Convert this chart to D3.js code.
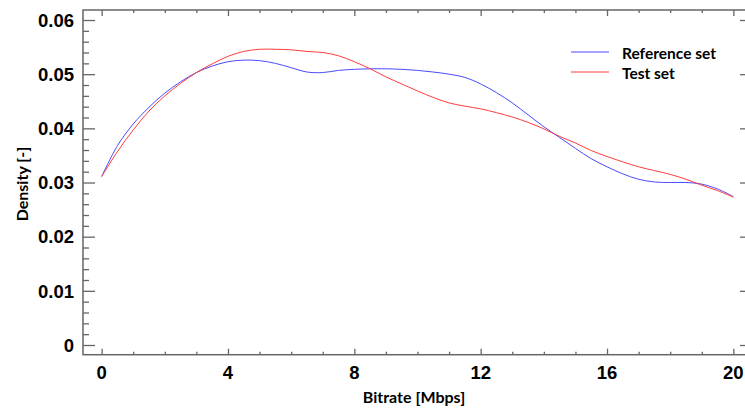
<!DOCTYPE html>
<html>
<head>
<meta charset="utf-8">
<script src="https://cdn.jsdelivr.net/npm/d3@7"></script>
<style>
  html, body { margin: 0; padding: 0; background: #fff; }
  svg { display: block; }
  .tick-label { font-family: "Liberation Sans", Arial, sans-serif; font-weight: bold; font-size: 18.5px; fill: #000; }
  .title { font-family: Lato, "Open Sans", sans-serif; font-weight: bold; font-size: 16px; fill: #000; }
  .legend-text { font-family: Lato, "Open Sans", sans-serif; font-weight: bold; font-size: 15.5px; fill: #000; }
</style>
</head>
<body>
<svg id="chart" width="745" height="410"></svg>
<script>
// Bitrate grid (Mbps), sampled every 0.5
const bitrate = d3.range(0, 20.01, 0.5);

// Estimated density for each set
const referenceSet = [
  0.0311, 0.0368, 0.0408, 0.0439, 0.0465, 0.0486, 0.0503, 0.0515, 0.0523, 0.0526,
  0.0525, 0.0520, 0.0512, 0.0504, 0.0503, 0.0507, 0.0509, 0.0510, 0.0510, 0.0509,
  0.0507, 0.0504, 0.0500, 0.0494, 0.0482, 0.0466, 0.0447, 0.0425, 0.0403, 0.0383,
  0.0363, 0.0344, 0.0329, 0.0316, 0.0306, 0.0301, 0.0300, 0.0300, 0.0297, 0.0288,
  0.0274
];
const testSet = [
  0.0311, 0.0357, 0.0397, 0.0432, 0.0460, 0.0483, 0.0503, 0.0519, 0.0533, 0.0542,
  0.0546, 0.0546, 0.0545, 0.0542, 0.0540, 0.0534, 0.0523, 0.0510, 0.0495, 0.0482,
  0.0469, 0.0457, 0.0447, 0.0441, 0.0436, 0.0429, 0.0421, 0.0411, 0.0399, 0.0385,
  0.0373, 0.0359, 0.0348, 0.0338, 0.0329, 0.0322, 0.0315, 0.0306, 0.0295, 0.0285,
  0.0273
];

const seriesNames = ["Reference set", "Test set"];
const seriesColors = ["#4a4aff", "#ff3c3c"];

// Axis ticks
const xMajorTicks = [0, 4, 8, 12, 16, 20];
const xMinorTicks = d3.range(0, 21, 1).filter(v => v % 4 !== 0);
const yMajorTicks = [0, 0.01, 0.02, 0.03, 0.04, 0.05, 0.06];
const yMinorTicks = d3.range(0, 0.0601, 0.002).filter(v => Math.abs(Math.round(v * 100) - v * 100) > 1e-6);
const xTickLabels = ["0", "4", "8", "12", "16", "20"];
const yTickLabels = ["0", "0.01", "0.02", "0.03", "0.04", "0.05", "0.06"];

const svg = d3.select("#chart");
const frame = { left: 83, right: 752, top: 10, bottom: 354.7 };

const x = d3.scaleLinear().domain([-0.59, 20.59]).range([frame.left, frame.right]);
const y = d3.scaleLinear().domain([-0.00179, 0.06185]).range([frame.bottom, frame.top]);

const axisColor = "#666";

function styleAxis(g) {
  g.select(".domain").remove();
  g.selectAll(".tick line").attr("stroke", axisColor).attr("stroke-width", 1.3);
  g.selectAll(".tick text").remove();
}

// Left axis: long inward majors, short minors
svg.append("g").attr("transform", `translate(${frame.left},0)`)
  .call(d3.axisRight(y).tickValues(yMajorTicks).tickSize(12)).call(styleAxis);
svg.append("g").attr("transform", `translate(${frame.left},0)`)
  .call(d3.axisRight(y).tickValues(yMinorTicks).tickSize(6)).call(styleAxis);
// Right axis mirror
svg.append("g").attr("transform", `translate(${frame.right},0)`)
  .call(d3.axisLeft(y).tickValues(yMajorTicks).tickSize(12)).call(styleAxis);
svg.append("g").attr("transform", `translate(${frame.right},0)`)
  .call(d3.axisLeft(y).tickValues(yMinorTicks).tickSize(6)).call(styleAxis);
// Bottom axis
svg.append("g").attr("transform", `translate(0,${frame.bottom})`)
  .call(d3.axisTop(x).tickValues(xMajorTicks).tickSize(6)).call(styleAxis);
svg.append("g").attr("transform", `translate(0,${frame.bottom})`)
  .call(d3.axisTop(x).tickValues(xMinorTicks).tickSize(3)).call(styleAxis);
// Top axis
svg.append("g").attr("transform", `translate(0,${frame.top})`)
  .call(d3.axisBottom(x).tickValues(xMajorTicks).tickSize(6)).call(styleAxis);
svg.append("g").attr("transform", `translate(0,${frame.top})`)
  .call(d3.axisBottom(x).tickValues(xMinorTicks).tickSize(3)).call(styleAxis);

// Frame lines
svg.append("rect")
  .attr("x", frame.left).attr("y", frame.top)
  .attr("width", frame.right - frame.left).attr("height", frame.bottom - frame.top)
  .attr("fill", "none").attr("stroke", axisColor).attr("stroke-width", 1.5);

// Tick labels
svg.append("g").selectAll("text").data(yMajorTicks).join("text")
  .attr("class", "tick-label")
  .attr("x", 74).attr("y", d => y(d)).attr("dy", "0.36em")
  .attr("text-anchor", "end")
  .text((d, i) => yTickLabels[i]);
svg.append("g").selectAll("text").data(xMajorTicks).join("text")
  .attr("class", "tick-label")
  .attr("x", d => x(d)).attr("y", 379)
  .attr("text-anchor", "middle")
  .text((d, i) => xTickLabels[i]);

// Axis titles
svg.append("text").attr("class", "title")
  .attr("x", 414).attr("y", 403).attr("text-anchor", "middle")
  .text("Bitrate [Mbps]");
svg.append("text").attr("class", "title")
  .attr("transform", "translate(28,184) rotate(-90)")
  .attr("text-anchor", "middle")
  .text("Density [-]");

// Density curves
const line = d3.line()
  .x((d, i) => x(bitrate[i]))
  .y(d => y(d))
  .curve(d3.curveCatmullRom.alpha(0.5));

[referenceSet, testSet].forEach((vals, k) => {
  svg.append("path")
    .datum(vals)
    .attr("d", line)
    .attr("fill", "none")
    .attr("stroke", seriesColors[k])
    .attr("stroke-width", 1);
});

// Legend
const legend = svg.append("g");
seriesNames.forEach((name, k) => {
  const ly = 52 + k * 20;
  legend.append("line")
    .attr("x1", 571).attr("x2", 609).attr("y1", ly).attr("y2", ly)
    .attr("stroke", seriesColors[k]).attr("stroke-width", 1);
  legend.append("text").attr("class", "legend-text")
    .attr("x", 622).attr("y", ly + 2).attr("dy", "0.3em")
    .text(name);
});
</script>
</body>
</html>
